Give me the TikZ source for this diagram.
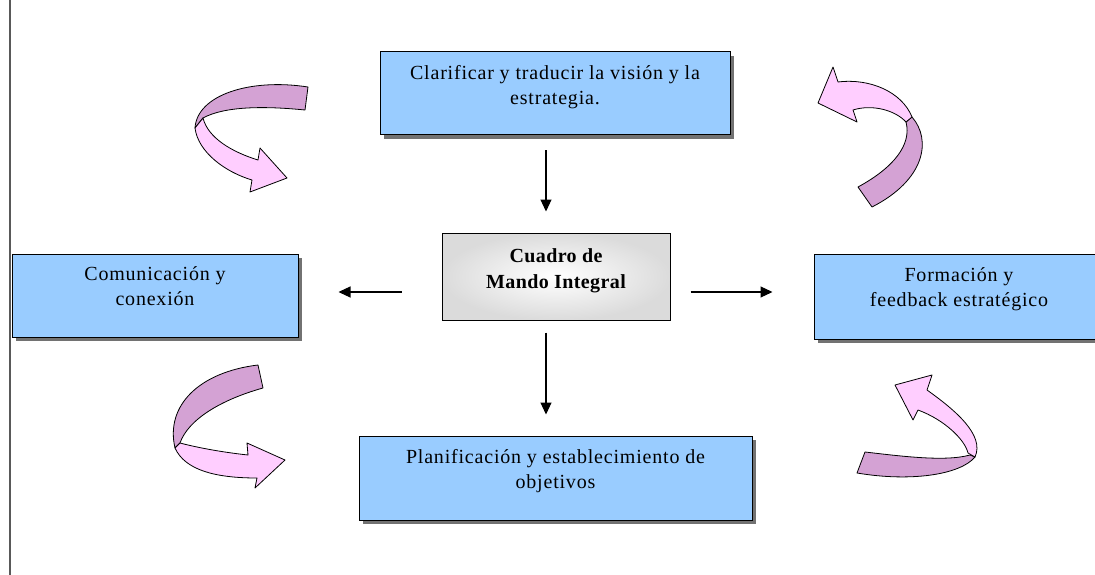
\documentclass[tikz,border=0pt]{standalone}
\usepackage{fontspec}
\setmainfont{Liberation Serif}
\newfontfamily\boxfont[LetterSpace=4]{Liberation Serif}
\newfontfamily\cmifont[LetterSpace=2]{Liberation Serif}
\usetikzlibrary{shapes,arrows.meta,shadows}
\definecolor{boxblue}{RGB}{153,204,255}
\definecolor{bandback}{RGB}{212,162,212}
\definecolor{bandfront}{RGB}{255,206,255}
\tikzset{
  backband/.style={
    draw=black,fill=bandback,line width=0.8pt,line join=round,
  },
  frontband/.style={
    draw=black,fill=bandfront,line width=0.8pt,line join=round,
  },
}

\begin{document}
\begin{tikzpicture}[
        x=1pt, y=-1pt
        , block/.style={
             rectangle
            , align=center
            , draw=black
            , line width=1pt
            , fill=boxblue
            , drop shadow={shadow xshift=4pt, shadow yshift=-4pt, fill=black!65, opacity=0.85}
            , font=\boxfont\fontsize{20pt}{25pt}\selectfont
            , text depth=18pt
            , minimum height=83pt
        }
        , core/.style={
             rectangle
            , align=center
            , draw=black
            , line width=1pt
            , inner color=white
            , outer color=gray!28
            , font=\cmifont\bfseries\fontsize{20pt}{26pt}\selectfont
            , text depth=15pt
            , minimum width=228pt
            , minimum height=87pt
        }
        , flow/.style={
            line width=1.2pt, -{Triangle[length=12pt,width=11pt]}
        }
        ]
        \useasboundingbox (0,0) rectangle (1095,575);
        \draw[black!65, line width=2pt] (10,0) -- (10,575);

        \node[block, minimum width=350pt] (vision) at (555,93.5)
            {Clarificar y traducir la visión y la\\estrategia.};
        \node[core] (cmi) at (556,276.5) {Cuadro de\\Mando Integral};
        \node[block, minimum width=286pt, minimum height=83pt] (comunicacion) at (155,295.5)
            {Comunicación y\\conexión};
        \node[block, minimum width=290pt, minimum height=85pt] (formacion) at (959,296.5)
            {Formación y\\feedback estratégico};
        \node[block, minimum width=393pt, minimum height=84pt] (planificacion) at (555.5,478)
            {Planificación y establecimiento de\\objetivos};

        \draw[flow, shorten <=15pt, shorten >=21pt]
            ([xshift=-9pt]vision.south) -- ([xshift=-10pt]cmi.north);
        \draw[flow, shorten <=40pt, shorten >=40pt]
            ([yshift=-15.5pt]cmi.west) -- ([yshift=3.5pt]comunicacion.east);
        \draw[flow, shorten <=20pt, shorten >=41pt]
            ([yshift=-15.5pt]cmi.east) -- ([yshift=4.5pt]formacion.west);
        \draw[flow, shorten <=12pt, shorten >=21pt]
            ([xshift=-10pt]cmi.south) -- ([xshift=-9.5pt]planificacion.north);

        % curved ribbons
        \filldraw[backband] (308,87) .. controls (250,78) and (197,95) .. (195,128)
            -- (203,118) .. controls (225,106) and (265,106) .. (305,110) -- cycle;
        \filldraw[frontband] (195,128) .. controls (198,152) and (225,172) .. (252,180)
            -- (250,192) -- (287,178) -- (260,148) -- (258,160)
            .. controls (232,152) and (208,138) .. (203,118) -- cycle;

        \filldraw[backband] (912,117) .. controls (932,140) and (925,180) .. (872,207)
            -- (858,187) .. controls (893,168) and (912,145) .. (906,122) -- cycle;
        \filldraw[frontband] (818,103) -- (833,67) -- (838,82)
            .. controls (870,78) and (902,92) .. (912,117) -- (906,122)
            .. controls (895,110) and (872,104) .. (853,110) -- (857,122) -- cycle;

        \filldraw[backband] (258,365) .. controls (200,372) and (165,405) .. (175,448)
            -- (180,443) .. controls (188,420) and (220,400) .. (263,388) -- cycle;
        \filldraw[frontband] (175,448) .. controls (185,470) and (215,478) .. (257,478)
            -- (255,488) -- (285,460) -- (247,443) -- (248,455)
            .. controls (220,452) and (195,447) .. (180,443) -- cycle;

        \filldraw[backband] (865,452) .. controls (900,456) and (945,462) .. (970,455)
            -- (975,457) .. controls (960,475) and (910,482) .. (857,473) -- cycle;
        \filldraw[frontband] (895,385) -- (932,375) -- (927,390)
            .. controls (955,410) and (985,435) .. (975,457) -- (968,453)
            .. controls (965,440) and (945,420) .. (918,410) -- (913,420) -- cycle;
    \end{tikzpicture}
\end{document}
